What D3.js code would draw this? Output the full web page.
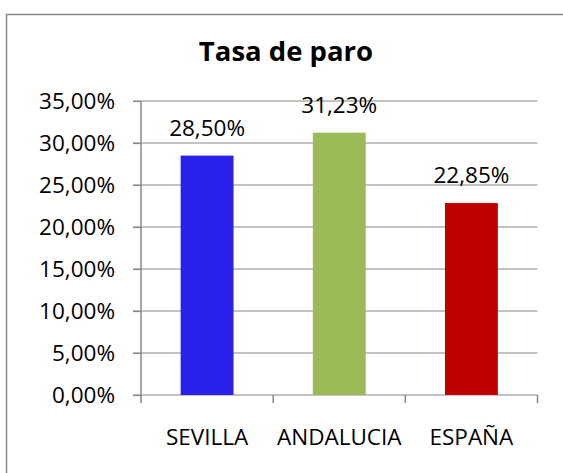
<!DOCTYPE html>
<html>
<head>
<meta charset="utf-8">
<script src="https://cdn.jsdelivr.net/npm/d3@7"></script>
<style>
  html, body { margin: 0; background: #fff; overflow: hidden; }
  svg { display: block; }
  svg text { font-family: "Open Sans", sans-serif; fill: #000; }
</style>
</head>
<body>
<svg id="chart" width="563" height="473"></svg>
<script>
const categories = ["SEVILLA", "ANDALUCIA", "ESPAÑA"];
const values = [28.50, 31.23, 22.85];
const barColors = ["#2A20EC", "#9BBB59", "#C00000"];
const yTicks = [0, 5, 10, 15, 20, 25, 30, 35];

const width = 563, height = 473;
const margin = { top: 101, left: 141, bottom: 78, right: 25.5 };
const innerwidth = width - margin.left - margin.right;
const innerheight = height - margin.top - margin.bottom;

const locale = d3.formatLocale({ decimal: ",", thousands: ".", grouping: [3], currency: ["", "€"] });
const fmt = v => locale.format(".2f")(v) + "%";

const svg = d3.select("#chart");

// marco del gráfico (sólo se ven los bordes superior e izquierdo)
svg.append("path")
    .attr("d", `M6.5,${height}V14.5H${width}`)
    .attr("fill", "none")
    .attr("stroke", "#888")
    .attr("stroke-width", 1.5);

svg.append("text")
    .attr("x", 286).attr("y", 61)
    .attr("text-anchor", "middle")
    .attr("font-size", "27.5px")
    .attr("font-weight", "bold")
    .text("Tasa de paro");

const canvas = svg.append("g")
    .attr("transform", `translate(${margin.left},${margin.top})`);

const xScale = d3.scaleBand()
    .domain(categories)
    .range([0, innerwidth])
    .paddingInner(0.6)
    .paddingOuter(0.3);

const yScale = d3.scaleLinear()
    .domain([0, 35])
    .range([innerheight, 0]);

// líneas de división
canvas.selectAll(".grid")
    .data(yTicks)
    .enter()
    .append("line")
    .attr("class", "grid")
    .attr("x1", -8).attr("x2", innerwidth)
    .attr("y1", d => yScale(d)).attr("y2", d => yScale(d))
    .attr("stroke", "#888")
    .attr("stroke-width", 1.2);

const yAxis = d3.axisLeft(yScale)
    .tickValues(yTicks)
    .tickFormat(fmt)
    .tickSize(8)
    .tickPadding(18);
const yAxisGroup = canvas.append("g").call(yAxis);
yAxisGroup.select(".domain").remove();
yAxisGroup.selectAll(".tick line").attr("stroke", "#888").attr("stroke-width", 1.2);
yAxisGroup.selectAll(".tick text").attr("font-size", "22.5px");

canvas.append("line")
    .attr("x1", 0).attr("x2", 0)
    .attr("y1", 0).attr("y2", innerheight)
    .attr("stroke", "#888").attr("stroke-width", 1.5);

// marcas del eje x entre categorías
const bounds = d3.range(categories.length + 1).map(i => i * innerwidth / categories.length);
canvas.selectAll(".xtick")
    .data(bounds)
    .enter()
    .append("line")
    .attr("x1", d => d).attr("x2", d => d)
    .attr("y1", innerheight).attr("y2", innerheight + 8)
    .attr("stroke", "#888").attr("stroke-width", 1.5);

canvas.selectAll(".dataRect")
    .data(values)
    .enter()
    .append("rect")
    .attr("x", (d, i) => xScale(categories[i]))
    .attr("y", d => yScale(d))
    .attr("width", xScale.bandwidth())
    .attr("height", d => innerheight - yScale(d))
    .attr("fill", (d, i) => barColors[i]);

canvas.selectAll(".value")
    .data(values)
    .enter()
    .append("text")
    .attr("x", (d, i) => xScale(categories[i]) + xScale.bandwidth() / 2)
    .attr("y", d => yScale(d) - 20)
    .attr("text-anchor", "middle")
    .attr("font-size", "22.5px")
    .text(fmt);

canvas.selectAll(".cat")
    .data(categories)
    .enter()
    .append("text")
    .attr("x", d => xScale(d) + xScale.bandwidth() / 2)
    .attr("y", innerheight + 50)
    .attr("text-anchor", "middle")
    .attr("font-size", "22.5px")
    .text(d => d);
</script>
</body>
</html>
